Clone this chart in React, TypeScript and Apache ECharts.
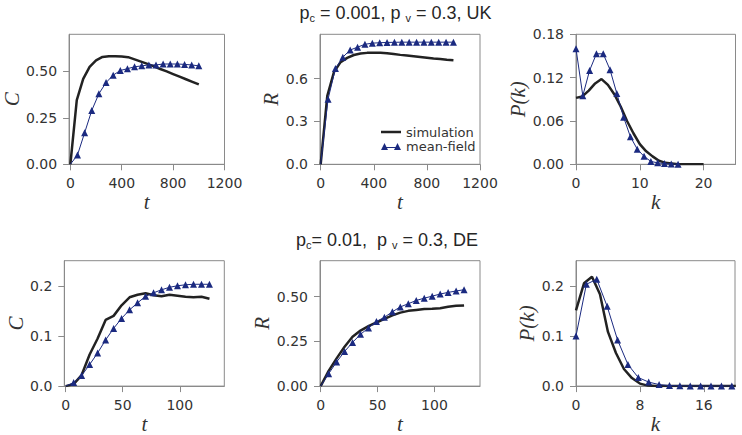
import React, { useEffect, useRef } from 'react';
import * as echarts from 'echarts';

// ---------- data ----------
// UK, p_c = 0.001
const tUKSim = [0, 50, 100, 150, 200, 250, 300, 350, 400, 450, 500, 550, 600, 650, 700, 750, 800, 850, 900, 950, 1000];
const cUKSim = [0, 0.345, 0.46, 0.525, 0.56, 0.578, 0.582, 0.582, 0.58, 0.577, 0.565, 0.553, 0.541, 0.527, 0.513, 0.5, 0.486, 0.472, 0.458, 0.444, 0.43];
const rUKSim = [0, 0.48, 0.645, 0.715, 0.745, 0.765, 0.775, 0.78, 0.78, 0.78, 0.778, 0.772, 0.766, 0.761, 0.756, 0.751, 0.746, 0.741, 0.737, 0.732, 0.728];
const tUKMF = [0, 55.6, 111.1, 166.7, 222.2, 277.8, 333.3, 388.9, 444.4, 500, 555.6, 611.1, 666.7, 722.2, 777.8, 833.3, 888.9, 944.4, 1000];
const cUKMF = [0, 0.05, 0.17, 0.29, 0.38, 0.44, 0.48, 0.505, 0.515, 0.525, 0.53, 0.535, 0.535, 0.54, 0.54, 0.54, 0.538, 0.535, 0.53];
const rUKMF = [0, 0.456, 0.67, 0.75, 0.8, 0.82, 0.84, 0.848, 0.851, 0.853, 0.854, 0.855, 0.855, 0.855, 0.855, 0.855, 0.855, 0.855, 0.855];
const kUKSim = [0, 1, 2, 3, 4, 5, 6, 7, 8, 9, 10, 11, 12, 13, 14, 15, 16, 17, 18, 19, 20];
const pUKSim = [0.092, 0.094, 0.102, 0.112, 0.118, 0.11, 0.097, 0.08, 0.06, 0.043, 0.028, 0.018, 0.011, 0.005, 0.002, 0.001, 0, 0, 0, 0, 0];
const kUKMF = [0, 1.067, 2.133, 3.2, 4.267, 5.333, 6.4, 7.467, 8.533, 9.6, 10.667, 11.733, 12.8, 13.867, 14.933, 16];
const pUKMF = [0.16, 0.095, 0.13, 0.153, 0.153, 0.131, 0.098, 0.065, 0.038, 0.021, 0.011, 0.004, 0.002, 0.001, 0.0005, 0.0002];

// DE, p_c = 0.01
const tDE = [0, 7, 14, 21, 28, 35, 42, 49, 56, 63, 70, 77, 84, 91, 98, 105, 112, 119, 126];
const cDESim = [0, 0.004, 0.022, 0.063, 0.095, 0.132, 0.14, 0.161, 0.177, 0.182, 0.185, 0.181, 0.179, 0.182, 0.18, 0.178, 0.177, 0.178, 0.174];
const cDEMF = [0, 0.007, 0.021, 0.043, 0.066, 0.092, 0.115, 0.135, 0.152, 0.166, 0.179, 0.186, 0.192, 0.197, 0.2, 0.202, 0.203, 0.203, 0.203];
const rDESim = [0, 0.085, 0.155, 0.22, 0.275, 0.31, 0.335, 0.355, 0.375, 0.395, 0.41, 0.42, 0.425, 0.43, 0.432, 0.435, 0.443, 0.448, 0.45];
const rDEMF = [0, 0.069, 0.135, 0.193, 0.244, 0.289, 0.325, 0.361, 0.384, 0.415, 0.442, 0.46, 0.478, 0.491, 0.502, 0.514, 0.523, 0.531, 0.538];
const kDESim = [0, 1, 2, 3, 4, 5, 6, 7, 8, 9, 10, 11, 12, 13, 14, 15, 16, 17, 18, 19, 20];
const pDESim = [0.151, 0.205, 0.218, 0.183, 0.108, 0.066, 0.034, 0.016, 0.005, 0.001, 0, 0, 0, 0, 0, 0, 0, 0, 0, 0, 0];
const kDEMF = [0, 1.3, 2.6, 3.9, 5.2, 6.5, 7.8, 9.1, 10.4, 11.7, 13, 14.3, 15.6, 16.9, 18.2, 19.5];
const pDEMF = [0.1, 0.203, 0.213, 0.159, 0.092, 0.043, 0.017, 0.008, 0.003, 0.001, 0.0005, 0.0003, 0.0002, 0.0001, 0.0001, 0.0001];

// tick values
const xTicksUK = [0, 400, 800, 1200];
const xTicksDE = [0, 50, 100];
const kTicksUK = [0, 10, 20];
const kTicksDE = [0, 8, 16];
const yTicksC_UK = [0, 0.25, 0.5];
const yTicksR_UK = [0, 0.3, 0.6];
const yTicksP_UK = [0, 0.06, 0.12, 0.18];
const yTicksC_DE = [0, 0.1, 0.2];
const yTicksR_DE = [0, 0.25, 0.5];
const yTicksP_DE = [0, 0.1, 0.2];

const seriesNames = ['simulation', 'mean-field'];
const titles = [
  '{m|p}{s|c}{m| = 0.001, p }{s|v}{m| = 0.3, UK}',
  '{m|p}{s|c}{m|= 0.01,  p }{s|v}{m| = 0.3, DE}',
];

const SIM_COLOR = '#222222';
const MF_COLOR = '#1b2a80';
const AXIS_COLOR = '#8a8a8a';
const TEXT_COLOR = '#333333';

type Panel = {
  grid: { left: number; top: number; width: number; height: number };
  xMin: number; xMax: number; yMin: number; yMax: number;
  xTicks: number[]; yTicks: number[]; yDigits: number;
  xName: string; yName: string; yNameGap: number;
  sim: [number[], number[]]; mf: [number[], number[]]; hideFirstMarker: boolean;
};

const panels: Panel[] = [
  { grid: { left: 64.5, top: 34.3, width: 160, height: 130 }, xMin: -10, xMax: 1200, yMin: 0, yMax: 0.7,
    xTicks: xTicksUK, yTicks: yTicksC_UK, yDigits: 2, xName: 't', yName: 'C', yNameGap: 43,
    sim: [tUKSim, cUKSim], mf: [tUKMF, cUKMF], hideFirstMarker: true },
  { grid: { left: 320, top: 34.3, width: 160, height: 130 }, xMin: -5, xMax: 1200, yMin: 0, yMax: 0.91,
    xTicks: xTicksUK, yTicks: yTicksR_UK, yDigits: 1, xName: 't', yName: 'R', yNameGap: 35,
    sim: [tUKSim, rUKSim], mf: [tUKMF, rUKMF], hideFirstMarker: true },
  { grid: { left: 576, top: 34.3, width: 159.5, height: 130 }, xMin: 0, xMax: 25, yMin: 0, yMax: 0.18,
    xTicks: kTicksUK, yTicks: yTicksP_UK, yDigits: 2, xName: 'k', yName: 'P(k)', yNameGap: 46,
    sim: [kUKSim, pUKSim], mf: [kUKMF, pUKMF], hideFirstMarker: false },
  { grid: { left: 64.3, top: 260.7, width: 160, height: 129.3 }, xMin: -1.2, xMax: 139, yMin: 0, yMax: 0.25,
    xTicks: xTicksDE, yTicks: yTicksC_DE, yDigits: 1, xName: 't', yName: 'C', yNameGap: 37,
    sim: [tDE, cDESim], mf: [tDE, cDEMF], hideFirstMarker: true },
  { grid: { left: 320, top: 260.7, width: 160, height: 129.3 }, xMin: -0.6, xMax: 140, yMin: 0, yMax: 0.7,
    xTicks: xTicksDE, yTicks: yTicksR_DE, yDigits: 2, xName: 't', yName: 'R', yNameGap: 45,
    sim: [tDE, rDESim], mf: [tDE, rDEMF], hideFirstMarker: true },
  { grid: { left: 576, top: 260.7, width: 159, height: 129.3 }, xMin: 0, xMax: 19.9, yMin: 0, yMax: 0.25,
    xTicks: kTicksDE, yTicks: yTicksP_DE, yDigits: 1, xName: 'k', yName: 'P(k)', yNameGap: 37,
    sim: [kDESim, pDESim], mf: [kDEMF, pDEMF], hideFirstMarker: false },
];

const tickLabelStyle = { fontFamily: 'DejaVu Sans', fontSize: 14, color: TEXT_COLOR };
const nameStyle = { fontFamily: 'Liberation Serif', fontStyle: 'italic' as const, fontSize: 21, color: TEXT_COLOR };

// legend icons (20 x 8 boxes; hair-thin strips at top/bottom fix the bounding box)
const SIM_ICON = 'path://M0,0 L20,0 L20,0.01 L0,0.01 Z M0,2.8 L20,2.8 L20,5.2 L0,5.2 Z M0,7.99 L20,7.99 L20,8 L0,8 Z';
const MF_ICON = 'path://M0,0 L20,0 L20,0.01 L0,0.01 Z M0,8 L3.5,1 L7,8 Z M13,8 L16.5,1 L20,8 Z M3.5,5 L16.5,5 L16.5,6 L3.5,6 Z';

function buildOption() {
  const grid = panels.map((p) => ({
    ...p.grid, show: true, borderColor: AXIS_COLOR, borderWidth: 1, backgroundColor: 'transparent', containLabel: false,
  }));
  const xAxis = panels.map((p, i) => ({
    type: 'value', gridIndex: i, min: p.xMin, max: p.xMax,
    name: p.xName, nameLocation: 'middle', nameGap: 24, nameTextStyle: nameStyle,
    axisLine: { show: true, onZero: false, lineStyle: { color: AXIS_COLOR, width: 1 } },
    axisTick: { show: true, length: 6, customValues: p.xTicks, lineStyle: { color: AXIS_COLOR, width: 1 } },
    axisLabel: { show: true, customValues: p.xTicks, margin: 12, ...tickLabelStyle, formatter: (v: number) => String(v) },
    splitLine: { show: false },
  }));
  const yAxis = panels.map((p, i) => ({
    type: 'value', gridIndex: i, min: p.yMin, max: p.yMax,
    name: p.yName, nameLocation: 'middle', nameGap: p.yNameGap, nameTextStyle: nameStyle,
    axisLine: { show: true, onZero: false, lineStyle: { color: AXIS_COLOR, width: 1 } },
    axisTick: { show: true, length: 6, customValues: p.yTicks, lineStyle: { color: AXIS_COLOR, width: 1 } },
    axisLabel: { show: true, customValues: p.yTicks, margin: 12, ...tickLabelStyle, formatter: (v: number) => v.toFixed(p.yDigits) },
    splitLine: { show: false },
  }));
  const series: any[] = [];
  panels.forEach((p, i) => {
    series.push({
      name: seriesNames[0], type: 'line', xAxisIndex: i, yAxisIndex: i,
      data: p.sim[0].map((x, j) => [x, p.sim[1][j]]),
      symbol: 'none', lineStyle: { color: SIM_COLOR, width: 2.5 }, itemStyle: { color: SIM_COLOR },
      z: 2,
    });
    series.push({
      name: seriesNames[1], type: 'line', xAxisIndex: i, yAxisIndex: i,
      data: p.mf[0].map((x, j) =>
        j === 0 && p.hideFirstMarker ? { value: [x, p.mf[1][j]], symbol: 'none' } : [x, p.mf[1][j]]
      ),
      symbol: 'triangle', symbolSize: 7, showAllSymbol: true,
      lineStyle: { color: MF_COLOR, width: 1 }, itemStyle: { color: MF_COLOR },
      z: 3,
    });
  });
  const titleRich = {
    m: { fontFamily: 'Liberation Sans', fontSize: 18, fill: '#262626', lineHeight: 20 },
    s: { fontFamily: 'Liberation Sans', fontSize: 11, fill: '#262626', lineHeight: 8, verticalAlign: 'bottom' },
  };
  return {
    animation: false,
    backgroundColor: '#ffffff',
    grid, xAxis, yAxis, series,
    legend: {
      show: true, orient: 'vertical', left: 376, top: 120, itemWidth: 20, itemHeight: 8, itemGap: 0,
      textStyle: { fontFamily: 'DejaVu Sans', fontSize: 13, color: TEXT_COLOR, lineHeight: 14 },
      selectedMode: false,
      data: [
        { name: seriesNames[0], icon: SIM_ICON },
        { name: seriesNames[1], icon: MF_ICON },
      ],
    },
    graphic: [
      { type: 'text', x: 395.5, y: 13, style: { text: titles[0], rich: titleRich, align: 'center', verticalAlign: 'middle' } },
      { type: 'text', x: 387, y: 240, style: { text: titles[1], rich: titleRich, align: 'center', verticalAlign: 'middle' } },
    ],
  };
}

export default function App() {
  const ref = useRef<HTMLDivElement>(null);
  useEffect(() => {
    document.body.style.margin = '0';
    const chart = echarts.init(ref.current as HTMLDivElement, null, { renderer: 'svg' });
    chart.setOption(buildOption() as any);
    return () => chart.dispose();
  }, []);
  return <div ref={ref} style={{ width: 742, height: 435, position: 'absolute', left: 0, top: 0 }} />;
}
